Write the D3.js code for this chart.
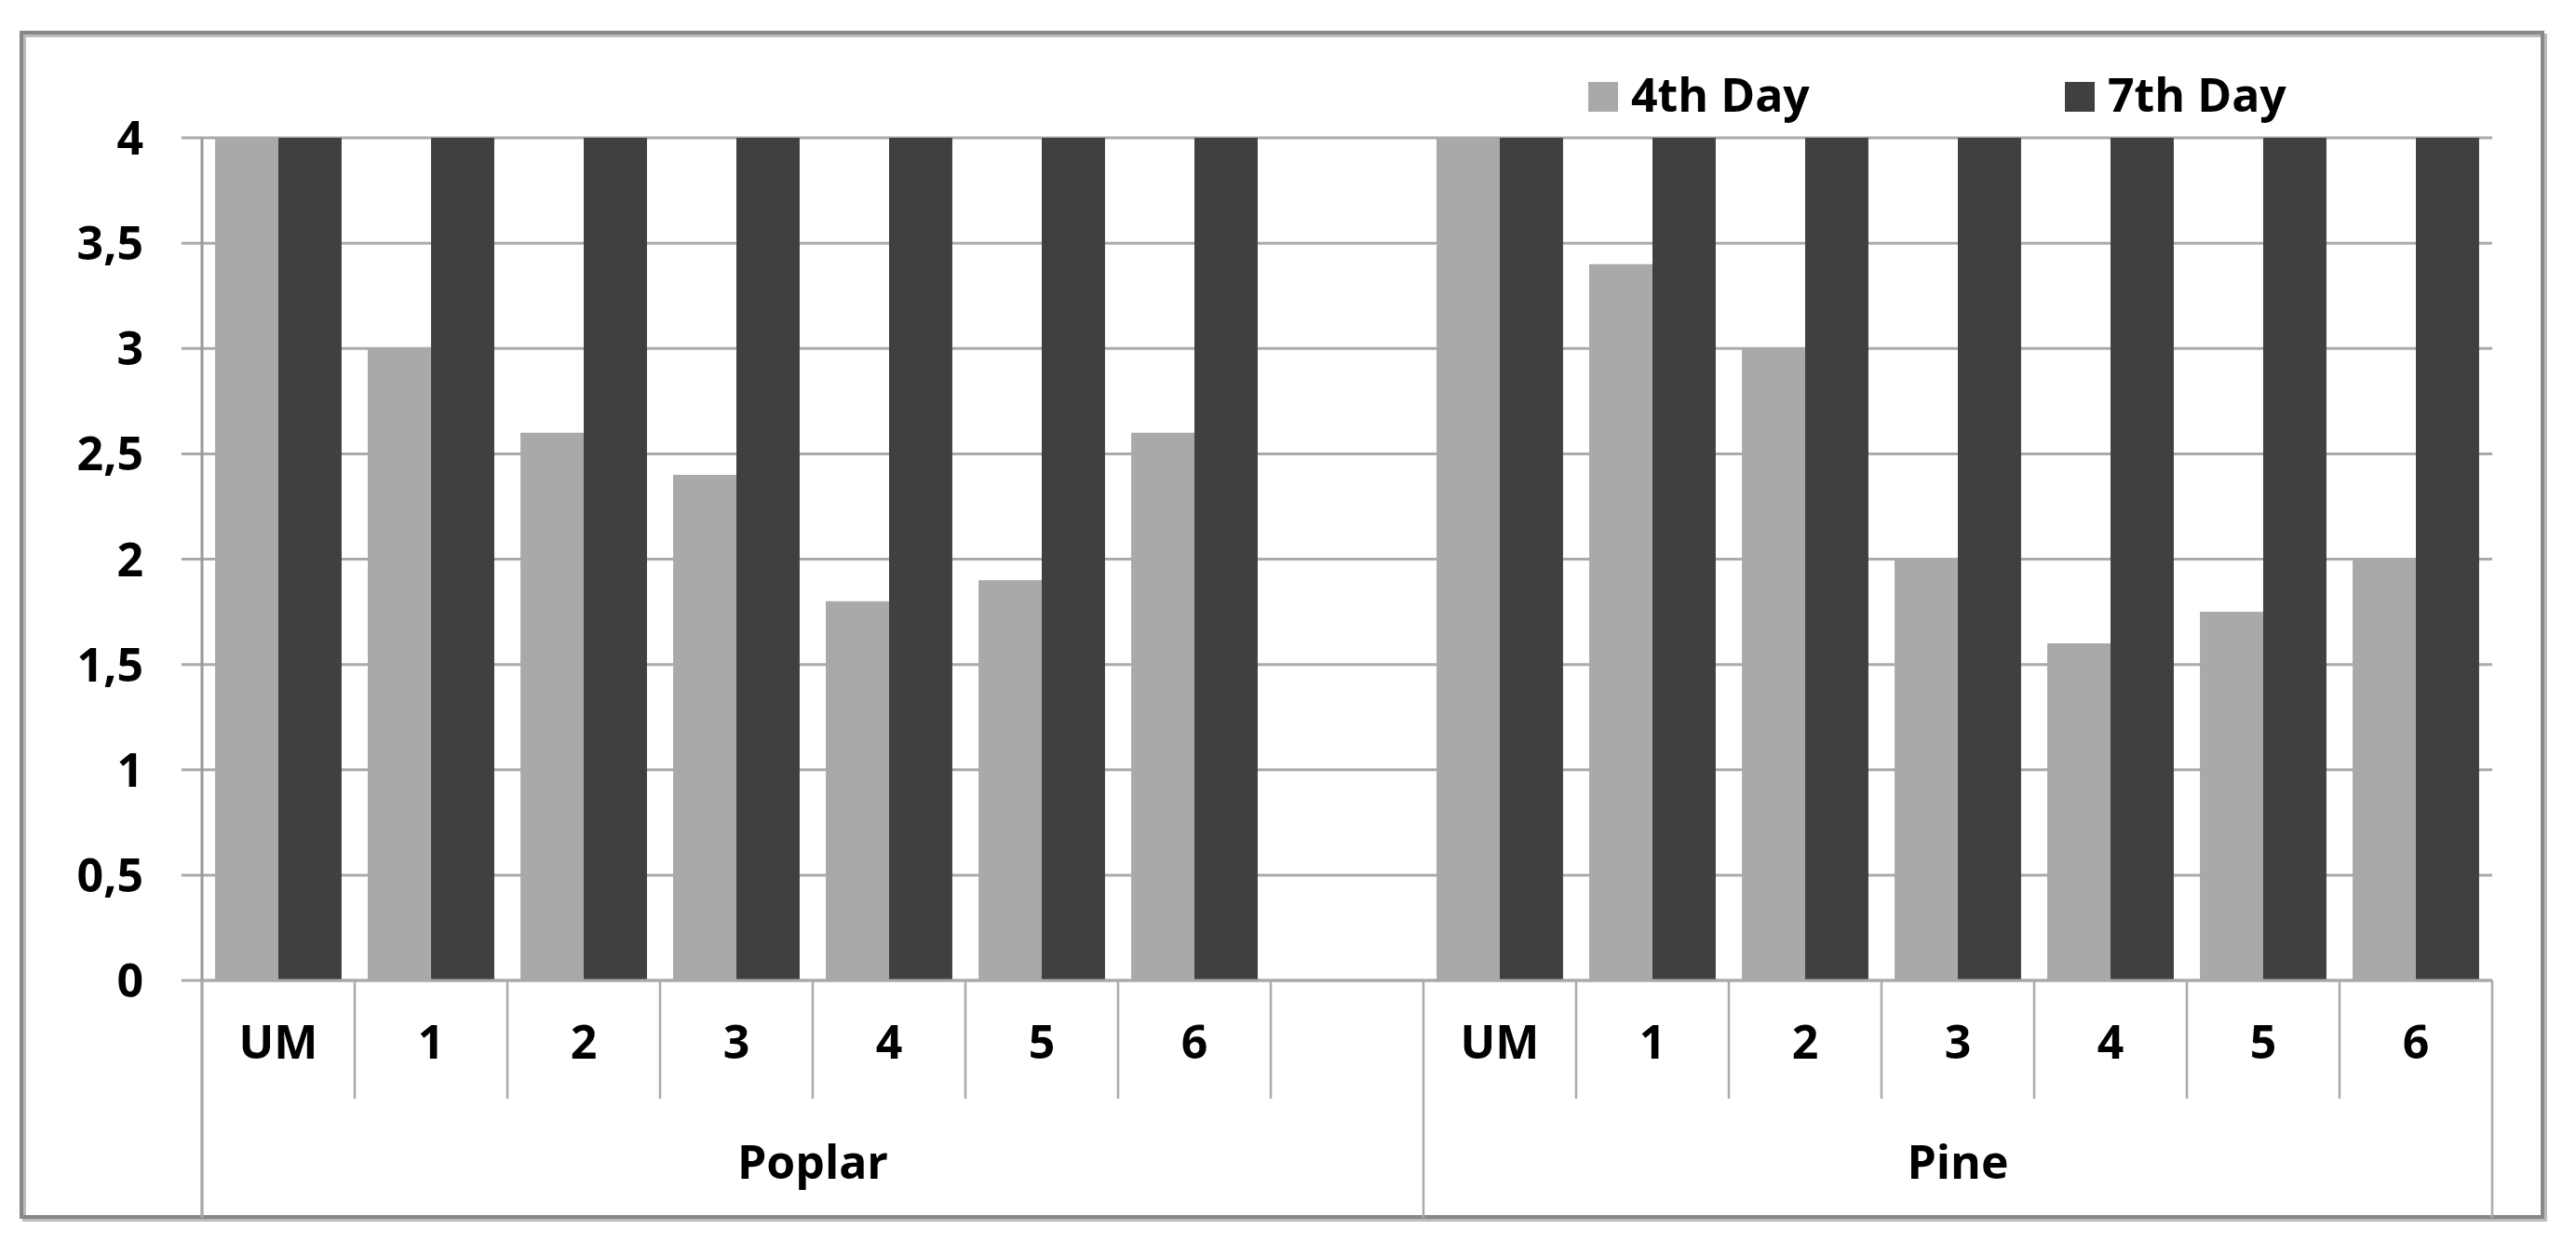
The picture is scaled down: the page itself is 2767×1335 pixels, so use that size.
<!DOCTYPE html><html><head><meta charset="utf-8">
<script src="https://cdn.jsdelivr.net/npm/d3@7"></script>
<style>body{margin:0;background:#fff}</style></head><body>
<svg id="c" width="2767" height="1335"></svg>
<script>
const groups=["Poplar","Pine"];
const categories=[["UM","1","2","3","4","5","6",""],["UM","1","2","3","4","5","6"]];
const series=["4th Day","7th Day"];
const colors=["#a9a9a9","#404040"];
const day4=[[4,3,2.6,2.4,1.8,1.9,2.6],[4,3.4,3,2,1.6,1.75,2]];
const day7=[[4,4,4,4,4,4,4],[4,4,4,4,4,4,4]];
const yTicks=[0,0.5,1,1.5,2,2.5,3,3.5,4];
const yTickLabels=["0","0,5","1","1,5","2","2,5","3","3,5","4"];

const svg=d3.select("#c");
const F="'Open Sans',sans-serif";
const L=217,R=2677,T=148,B=1053,catB=1180,grpB=1308;
svg.append("rect").attr("x",26).attr("y",38).attr("width",2708).attr("height",1272).attr("fill","none").attr("stroke","#bbb").attr("stroke-width",4);
svg.append("rect").attr("x",23).attr("y",35).attr("width",2708).attr("height",1272).attr("fill","none").attr("stroke","#888").attr("stroke-width",4);

const slots=[];
categories.forEach((cs,g)=>cs.forEach((c,i)=>slots.push({g,i,c,key:g+"-"+i})));
const x=d3.scaleBand().domain(slots.map(s=>s.key)).range([L,R]);
const y=d3.scaleLinear().domain([0,4]).range([B,T]);
const inner=d3.scaleBand().domain(series).range([0,x.bandwidth()]).paddingInner(0).paddingOuter(0.207);

// grid
svg.append("g").selectAll("line").data(yTicks).join("line")
 .attr("x1",L-22).attr("x2",R).attr("y1",d=>y(d)).attr("y2",d=>y(d)).attr("stroke","#aaa").attr("stroke-width",3);
svg.append("g").selectAll("text").data(yTicks).join("text")
 .attr("x",154).attr("y",d=>y(d)+18).attr("text-anchor","end").attr("font-family",F).attr("font-weight",700).attr("font-size",50)
 .text((d,i)=>yTickLabels[i]);
svg.append("line").attr("x1",L).attr("x2",L).attr("y1",T).attr("y2",grpB).attr("stroke","#999").attr("stroke-width",3);

// bars
const bars=[];
slots.forEach(s=>{ if(s.c==="")return;
 bars.push({s,ser:0,v:day4[s.g][s.i]}); bars.push({s,ser:1,v:day7[s.g][s.i]}); });
svg.append("g").selectAll("rect").data(bars).join("rect")
 .attr("x",d=>x(d.s.key)+inner(series[d.ser])).attr("width",inner.bandwidth())
 .attr("y",d=>y(d.v)).attr("height",d=>B-y(d.v)).attr("fill",d=>colors[d.ser]);

// category separators and labels
const bounds=slots.map(s=>x(s.key)).concat([R]);
svg.append("g").selectAll("line").data(bounds).join("line")
 .attr("x1",d=>d).attr("x2",d=>d).attr("y1",B).attr("y2",(d,i)=>(i===0||i===8||i===bounds.length-1)?grpB:catB)
 .attr("stroke","#aaa").attr("stroke-width",2.5);
svg.append("line").attr("x1",L).attr("x2",R).attr("y1",B).attr("y2",B).attr("stroke","#aaa").attr("stroke-width",3);
svg.append("g").selectAll("text").data(slots).join("text")
 .attr("x",d=>x(d.key)+x.bandwidth()/2).attr("y",1137).attr("text-anchor","middle")
 .attr("font-family",F).attr("font-weight",700).attr("font-size",50).text(d=>d.c);
// group labels
groups.forEach((g,gi)=>{
 const ks=slots.filter(s=>s.g===gi);
 const x0=x(ks[0].key), x1=x(ks[ks.length-1].key)+x.bandwidth();
 svg.append("text").attr("x",(x0+x1)/2).attr("y",1266).attr("text-anchor","middle")
  .attr("font-family",F).attr("font-weight",700).attr("font-size",50).text(g);
});
// legend
const lx=[1706,2218];
series.forEach((s,i)=>{
 svg.append("rect").attr("x",lx[i]).attr("y",88).attr("width",32).attr("height",32).attr("fill",colors[i]);
 svg.append("text").attr("x",lx[i]+46).attr("y",120).attr("font-family",F).attr("font-weight",700).attr("font-size",50).text(s);
});
</script></body></html>
